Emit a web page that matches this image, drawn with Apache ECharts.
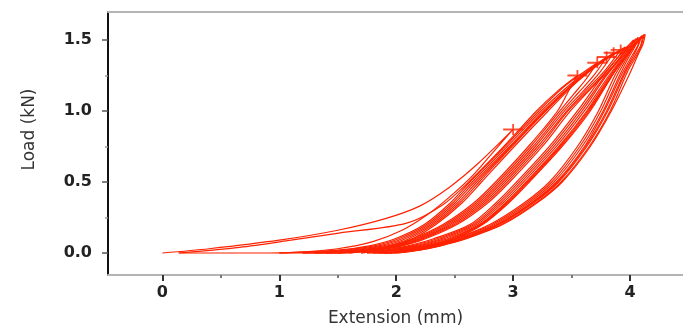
<!DOCTYPE html>
<html>
<head>
<meta charset="utf-8">
<script src="https://cdn.jsdelivr.net/npm/echarts@6/dist/echarts.min.js"></script>
<style>
html,body{margin:0;padding:0;background:#fff;}
#chart{width:683px;height:330px;}
</style>
</head>
<body>
<div id="chart"></div>
<script>
// ---- tick labels ----
const xTickValues = [0, 1, 2, 3, 4];
const xMinorValues = [0.5, 1.5, 2.5, 3.5];
const yTickValues = [0, 0.5, 1.0, 1.5];
const yMinorValues = [0.25, 0.75, 1.25];

// ---- loading / unloading cycles (extension mm, load kN) ----
const cycle1 = [[0,0],[0.4,0.03],[1.0,0.09],[1.5,0.16],[1.9,0.24],[2.2,0.33],[2.45,0.46],[2.7,0.63],[3.0,0.87],
  [2.85,0.73],[2.66,0.55],[2.45,0.39],[2.25,0.26],[2.05,0.16],[1.8,0.08],[1.5,0.03],[1.15,0.005],[0.8,0],[0.14,0]];
const cycle2 = [[0.14,0],[0.66,0.04],[1.1,0.09],[1.51,0.14],[2.09,0.21],[2.4,0.34],[2.62,0.5],[2.92,0.75],[3.2,1.0],[3.38,1.14],[3.55,1.25],
  [3.48,1.15],[3.38,1.0],[3.13,0.75],[2.85,0.5],[2.66,0.35],[2.4,0.2],[2.14,0.1],[1.95,0.05],[1.72,0.02],[1.3,0],[1.0,0]];
const cycle3 = [[1.0,0],[1.5,0.02],[1.77,0.05],[1.99,0.1],[2.24,0.2],[2.46,0.35],[2.63,0.5],[2.93,0.75],[3.22,1.0],[3.42,1.16],[3.58,1.26],[3.72,1.34],
  [3.62,1.22],[3.52,1.12],[3.4,1.0],[3.15,0.75],[2.87,0.5],[2.68,0.35],[2.42,0.2],[2.16,0.1],[1.96,0.05],[1.74,0.02],[1.4,0],[1.2,0]];
const cycle4 = [[1.2,0],[1.56,0.02],[1.81,0.05],[2.02,0.1],[2.26,0.2],[2.48,0.35],[2.65,0.5],[2.95,0.75],[3.24,1.0],[3.45,1.16],[3.63,1.28],[3.80,1.38],
  [3.69,1.25],[3.56,1.13],[3.42,1.0],[3.17,0.75],[2.89,0.5],[2.7,0.35],[2.44,0.2],[2.18,0.1],[1.98,0.05],[1.76,0.02],[1.45,0],[1.3,0]];
const cycle5 = [[1.3,0],[1.62,0.02],[1.85,0.05],[2.05,0.1],[2.28,0.2],[2.5,0.35],[2.67,0.5],[2.97,0.75],[3.26,1.0],[3.48,1.17],[3.67,1.3],[3.86,1.41],
  [3.74,1.27],[3.6,1.14],[3.44,1.0],[3.19,0.75],[2.91,0.5],[2.72,0.35],[2.46,0.2],[2.2,0.1],[2.0,0.05],[1.78,0.02],[1.5,0],[1.4,0]];
const cycle6 = [[1.4,0],[1.67,0.02],[1.89,0.05],[2.08,0.1],[2.3,0.2],[2.52,0.35],[2.69,0.5],[2.98,0.75],[3.27,1.0],[3.5,1.18],[3.71,1.32],[3.92,1.43],
  [3.79,1.29],[3.63,1.15],[3.46,1.0],[3.21,0.75],[2.93,0.5],[2.74,0.35],[2.48,0.2],[2.21,0.1],[2.02,0.05],[1.8,0.02],[1.55,0],[1.5,0]];
const cycle7 = [[1.5,0],[1.72,0.02],[1.93,0.05],[2.11,0.1],[2.32,0.2],[2.54,0.35],[2.71,0.5],[2.99,0.75],[3.28,1.0],[3.52,1.19],[3.74,1.34],[3.96,1.45],
  [3.83,1.31],[3.66,1.16],[3.47,1.0],[3.23,0.75],[2.95,0.5],[2.76,0.35],[2.5,0.2],[2.23,0.1],[2.04,0.05],[1.82,0.02],[1.6,0]];
const cycle8 = [[1.6,0],[1.78,0.02],[1.97,0.05],[2.14,0.1],[2.34,0.2],[2.56,0.35],[2.73,0.5],[3.01,0.75],[3.3,1.0],[3.54,1.2],[3.77,1.35],[3.99,1.46],
  [3.86,1.32],[3.68,1.17],[3.49,1.0],[3.25,0.75],[2.97,0.5],[2.78,0.35],[2.52,0.2],[2.25,0.1],[2.05,0.05],[1.85,0.02],[1.7,0]];
const cycle9 = [[1.7,0],[1.9,0.02],[2.1,0.05],[2.32,0.1],[2.63,0.2],[2.85,0.35],[3.03,0.5],[3.31,0.75],[3.55,1.0],[3.77,1.25],[3.92,1.4],[4.03,1.5],
  [4.0,1.43],[3.95,1.36],[3.87,1.25],[3.73,1.0],[3.55,0.75],[3.31,0.5],[3.09,0.35],[2.8,0.2],[2.5,0.1],[2.28,0.05],[2.1,0.02],[1.9,0],[1.75,0]];
const cycle10 = [[1.75,0],[1.93,0.02],[2.13,0.05],[2.35,0.1],[2.65,0.2],[2.87,0.35],[3.05,0.5],[3.33,0.75],[3.57,1.0],[3.79,1.25],[3.94,1.4],[4.05,1.51],
  [4.02,1.44],[3.97,1.37],[3.89,1.25],[3.75,1.0],[3.57,0.75],[3.33,0.5],[3.11,0.35],[2.82,0.2],[2.51,0.1],[2.29,0.05],[2.11,0.02],[1.92,0],[1.8,0]];
const cycle11 = [[1.8,0],[1.96,0.02],[2.16,0.05],[2.38,0.1],[2.67,0.2],[2.89,0.35],[3.07,0.5],[3.35,0.75],[3.59,1.0],[3.8,1.25],[3.96,1.41],[4.07,1.52],
  [4.04,1.45],[3.99,1.38],[3.91,1.25],[3.77,1.0],[3.59,0.75],[3.35,0.5],[3.13,0.35],[2.84,0.2],[2.53,0.1],[2.31,0.05],[2.13,0.02],[1.94,0],[1.85,0]];
const cycle12 = [[1.85,0],[1.99,0.02],[2.19,0.05],[2.41,0.1],[2.69,0.2],[2.91,0.35],[3.09,0.5],[3.37,0.75],[3.61,1.0],[3.82,1.25],[3.98,1.42],[4.09,1.52],
  [4.06,1.45],[4.01,1.38],[3.93,1.26],[3.78,1.0],[3.61,0.75],[3.37,0.5],[3.15,0.35],[2.86,0.2],[2.55,0.1],[2.33,0.05],[2.15,0.02],[1.96,0],[1.9,0]];
const cycle13 = [[1.9,0],[2.02,0.02],[2.22,0.05],[2.44,0.1],[2.71,0.2],[2.93,0.35],[3.11,0.5],[3.39,0.75],[3.63,1.0],[3.84,1.26],[4.0,1.43],[4.1,1.53],
  [4.07,1.46],[4.03,1.39],[3.95,1.27],[3.8,1.0],[3.62,0.75],[3.38,0.5],[3.16,0.35],[2.87,0.2],[2.56,0.1],[2.34,0.05],[2.16,0.02],[1.97,0],[1.95,0]];
const cycle14 = [[1.95,0],[2.05,0.02],[2.25,0.05],[2.46,0.1],[2.72,0.2],[2.94,0.35],[3.12,0.5],[3.4,0.75],[3.64,1.0],[3.86,1.27],[4.02,1.44],[4.11,1.53],
  [4.09,1.46],[4.05,1.4],[3.96,1.27],[3.81,1.0],[3.63,0.75],[3.39,0.5],[3.17,0.35],[2.88,0.2],[2.57,0.1],[2.35,0.05],[2.17,0.02],[1.98,0]];
const cycle15 = [[1.98,0],[2.08,0.02],[2.27,0.05],[2.48,0.1],[2.73,0.2],[2.95,0.35],[3.13,0.5],[3.41,0.75],[3.65,1.0],[3.87,1.28],[4.03,1.45],[4.12,1.54],
  [4.1,1.47],[4.07,1.41],[3.98,1.28],[3.83,1.0],[3.65,0.75],[3.41,0.5],[3.19,0.35],[2.9,0.2],[2.59,0.1],[2.37,0.05],[2.19,0.02],[2.0,0]];
const cycle16 = [[2.0,0],[2.1,0.02],[2.29,0.05],[2.5,0.1],[2.74,0.2],[2.96,0.35],[3.14,0.5],[3.42,0.75],[3.66,1.0],[3.88,1.29],[4.04,1.46],[4.13,1.54],
  [4.11,1.47],[4.07,1.4],[3.99,1.25],[3.84,1.0],[3.66,0.75],[3.42,0.5],[3.2,0.35],[2.91,0.2],[2.6,0.1],[2.38,0.05],[2.2,0.02],[2.02,0]];

const cycles = [cycle1, cycle2, cycle3, cycle4, cycle5, cycle6, cycle7, cycle8,
  cycle9, cycle10, cycle11, cycle12, cycle13, cycle14, cycle15, cycle16];

// peak markers (+)
const markerPoints = [[3.0,0.87],[3.55,1.25],[3.72,1.34],[3.80,1.38],[3.86,1.41],[3.92,1.43]];

const RED = '#ff2200';
const xMin = -0.465, xMax = 4.453, yMin = -0.155, yMax = 1.697;

const chart = echarts.init(document.getElementById('chart'), null, {renderer: 'canvas'});

const series = cycles.map(c => ({
  type: 'line', data: c, xAxisIndex: 0, yAxisIndex: 0,
  showSymbol: false, smooth: 0.3, smoothMonotone: 'none',
  lineStyle: {color: RED, width: 1.2}, silent: true, z: 2
}));
series.push({
  type: 'scatter', data: markerPoints, xAxisIndex: 0, yAxisIndex: 0,
  symbol: 'path://M0,4.3h20v1.8h-20z M9.1,0h1.8v10.4h-1.8z',
  symbolSize: [20, 11], itemStyle: {color: RED}, z: 3
});

const fontFam = '"DejaVu Sans", Verdana, sans-serif';

chart.setOption({
  animation: false,
  backgroundColor: '#fff',
  grid: {left: 108, right: 0, top: 12, bottom: 55, containLabel: false, outerBoundsMode: 'none'},
  xAxis: [
    {
      type: 'value', position: 'bottom', min: xMin, max: xMax,
      axisLine: {show: true, onZero: false, lineStyle: {color: '#b4b4b4', width: 2}},
      axisTick: {show: true, customValues: xTickValues, length: 6, lineStyle: {color: '#333', width: 2}},
      axisLabel: {show: true, customValues: xTickValues, formatter: v => String(v),
        fontFamily: fontFam, fontWeight: 'bold', fontSize: 16, color: '#222', margin: 10},
      splitLine: {show: false},
      name: 'Extension (mm)', nameLocation: 'middle', nameGap: 35,
      nameTextStyle: {fontFamily: fontFam, fontSize: 17, color: '#333'}
    },
    {
      type: 'value', position: 'bottom', min: xMin, max: xMax,
      axisLine: {show: false, onZero: false},
      axisTick: {show: true, customValues: xMinorValues, length: 3, lineStyle: {color: '#777', width: 2}},
      axisLabel: {show: false}, splitLine: {show: false}
    },
    {
      type: 'value', position: 'top', min: xMin, max: xMax,
      axisLine: {show: true, onZero: false, lineStyle: {color: '#b4b4b4', width: 2}},
      axisTick: {show: false}, axisLabel: {show: false}, splitLine: {show: false}
    }
  ],
  yAxis: [
    {
      type: 'value', position: 'left', min: yMin, max: yMax,
      axisLine: {show: true, onZero: false, lineStyle: {color: '#111', width: 2}},
      axisTick: {show: true, customValues: yTickValues, length: 6, lineStyle: {color: '#555', width: 1.5}},
      axisLabel: {show: true, customValues: yTickValues, formatter: v => v.toFixed(1),
        fontFamily: fontFam, fontWeight: 'bold', fontSize: 16, color: '#222', margin: 16},
      splitLine: {show: false},
      name: 'Load (kN)', nameLocation: 'middle', nameGap: 70, nameRotate: 90,
      nameTextStyle: {fontFamily: fontFam, fontSize: 17, color: '#333', padding: [0, 0, 0, 28]}
    },
    {
      type: 'value', position: 'left', min: yMin, max: yMax,
      axisLine: {show: false, onZero: false},
      axisTick: {show: true, customValues: yMinorValues, length: 3, lineStyle: {color: '#999', width: 1.5}},
      axisLabel: {show: false}, splitLine: {show: false}
    }
  ],
  series: series
});
</script>
</body>
</html>
